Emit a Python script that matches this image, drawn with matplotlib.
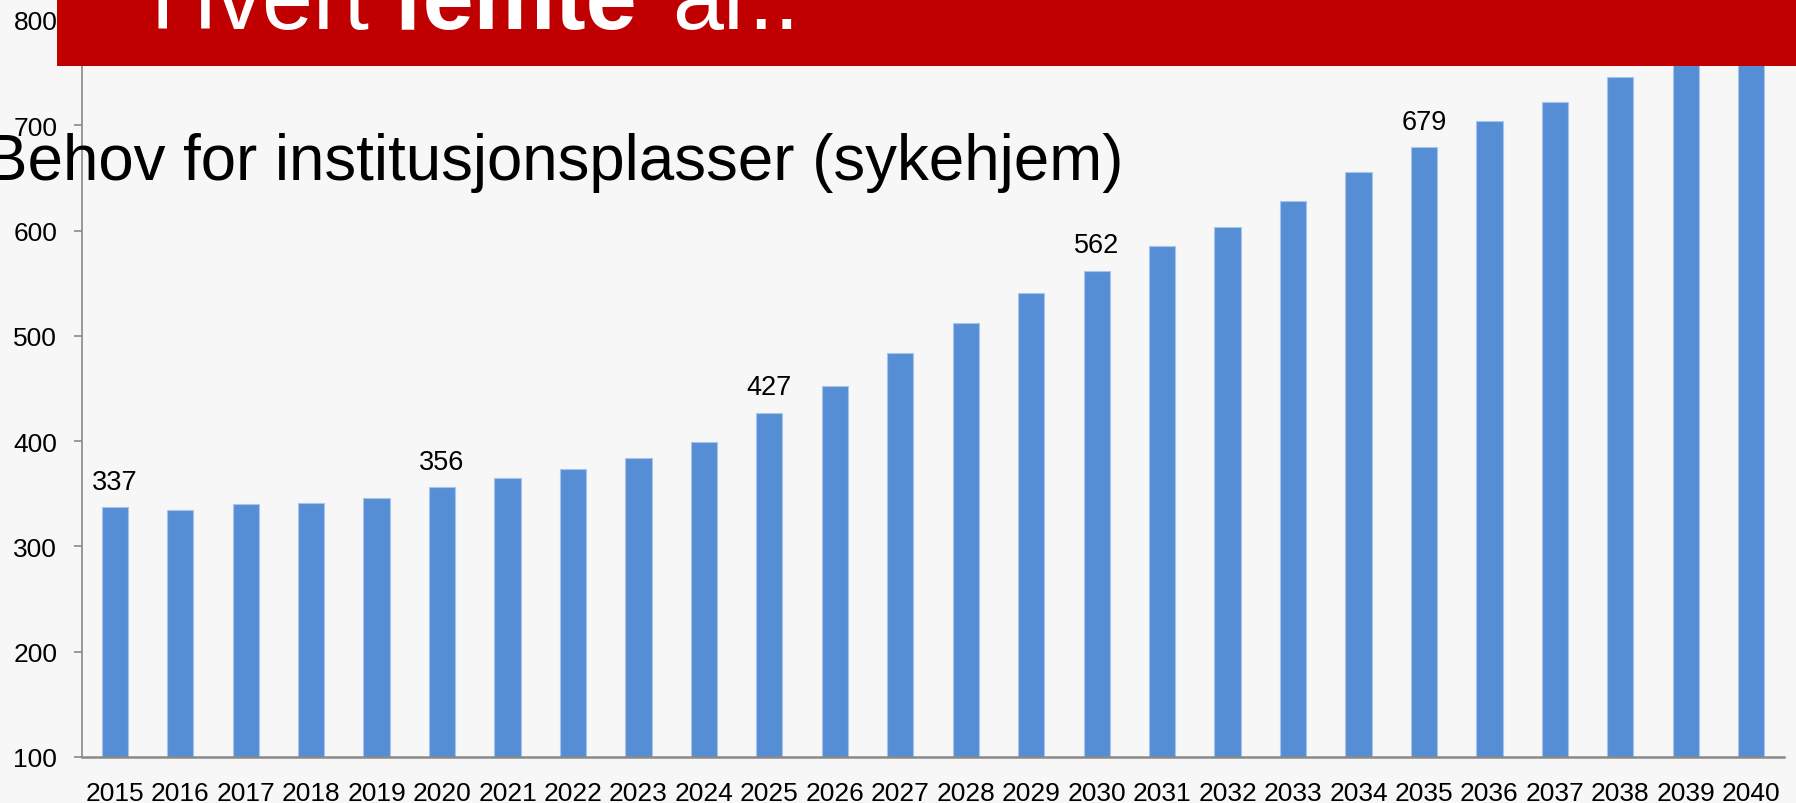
import numpy as np
import matplotlib.pyplot as plt
from matplotlib.patches import Rectangle

plt.rcParams['font.family'] = ['Liberation Sans', 'DejaVu Sans']

# data: behov for institusjonsplasser per år
years = [str(y) for y in range(2015, 2041)]
plasser = [337, 335, 340, 341, 346, 356, 365, 374, 384, 399,
           427, 452, 484, 512, 541, 562, 585, 603, 628, 656,
           679, 704, 722, 746, 770, 795]
label_years = ['2015', '2020', '2025', '2030', '2035']
yticks = [100, 200, 300, 400, 500, 600, 700, 800]

bg = '#F7F7F7'
bar_color = '#558ED5'
red = '#C00000'

fig = plt.figure(figsize=(17.96, 8.04), dpi=100, facecolor=bg)
ax = fig.add_axes([82/1796, 46/804, (1784-82)/1796, (758-21)/804])
ax.set_facecolor(bg)

x = np.arange(len(years))
ax.bar(x, plasser, width=0.4, color=bar_color, edgecolor='#A9C4EB', linewidth=0.8)

# tall over enkelte søyler
for i, v in enumerate(plasser):
    if years[i] in label_years:
        ax.annotate(str(v), (i, v), xytext=(0, 9), textcoords='offset points',
                    ha='center', va='bottom', fontsize=19.5, color='black')

ax.set_xlim(-0.5, len(years) - 0.5)
ax.set_ylim(100, 800)
ax.set_xticks(x)
ax.set_xticklabels(years, fontsize=19)
ax.set_yticks(yticks)
ax.set_yticklabels([str(t) for t in yticks], fontsize=19)
ax.tick_params(axis='x', length=0, pad=17)
ax.tick_params(axis='y', direction='out', length=5.8, width=1.2, color='#898989', pad=12)

for s in ['top', 'right']:
    ax.spines[s].set_visible(False)
ax.spines['left'].set_color('#898989')
ax.spines['left'].set_linewidth(1.2)
ax.spines['bottom'].set_color('#898989')
ax.spines['bottom'].set_linewidth(1.8)

# rødt banner øverst
banner = Rectangle((57/1796, 1 - 67/804), 1, 67/804, transform=fig.transFigure,
                   facecolor=red, edgecolor='none', zorder=5)
fig.add_artist(banner)

base_y = 1 - 29/804
fig.text(150/1796, base_y, 'Hvert', fontsize=66, color='white', va='baseline', zorder=6)
fig.text(392/1796, base_y, 'femte', fontsize=66, color='white', fontweight='bold', va='baseline', zorder=6)
fig.text(672/1796, base_y, 'år..', fontsize=66, color='white', va='baseline', zorder=6)

fig.text(-15/1796, 1 - 180/804, 'Behov for institusjonsplasser (sykehjem)',
         fontsize=45.8, color='black', va='baseline', zorder=6)

fig.savefig('out.png', dpi=100, facecolor=bg)
